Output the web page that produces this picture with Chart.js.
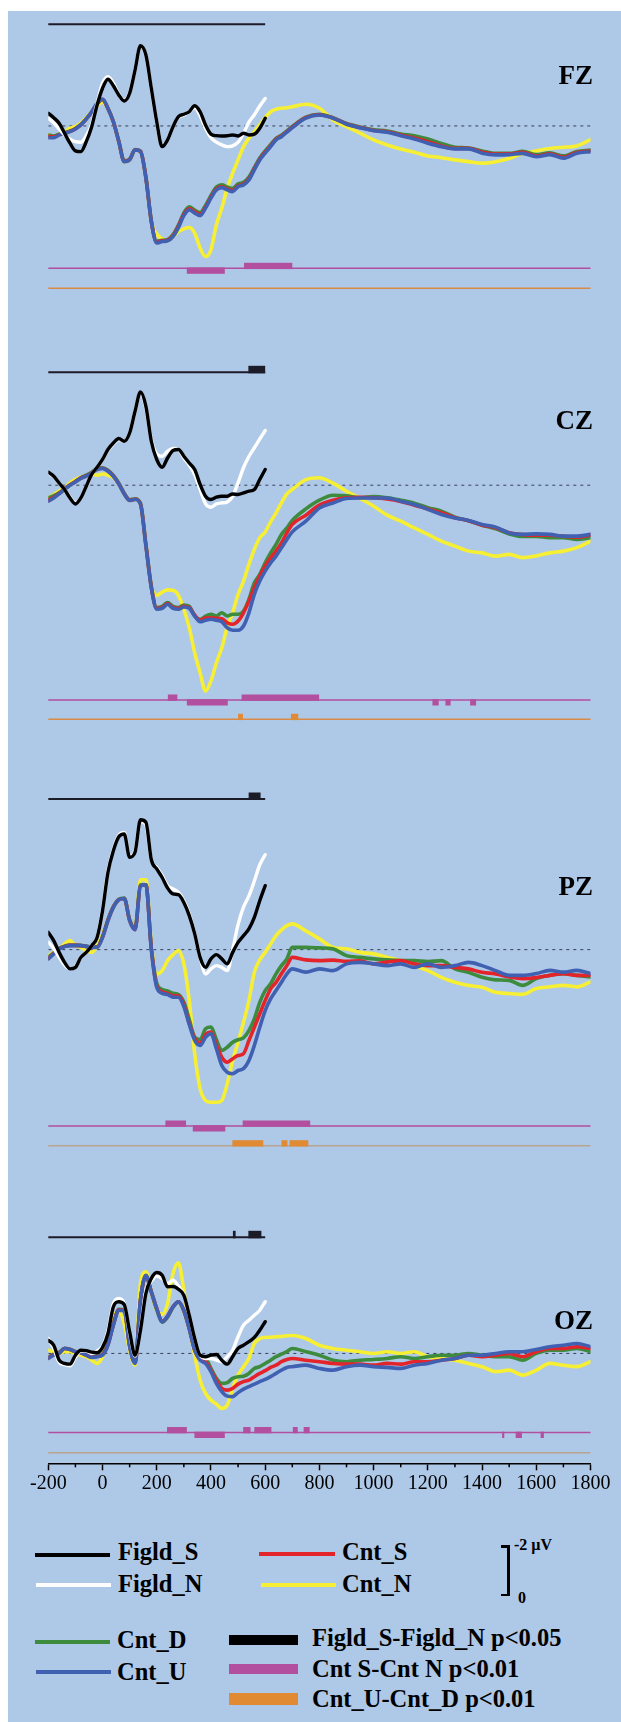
<!DOCTYPE html>
<html><head><meta charset="utf-8">
<script src="https://cdn.jsdelivr.net/npm/chart.js@4.4.1/dist/chart.umd.min.js"></script>
<style>
html,body{margin:0;padding:0;background:#fff;width:621px;height:1722px;overflow:hidden;}
#bg{position:absolute;left:8px;top:11px;width:613px;height:1711px;background:#aec8e8;}
#wrap{position:absolute;left:0;top:0;width:621px;height:1505px;}
.t{position:absolute;font-family:"Liberation Serif","Times New Roman",serif;font-weight:bold;color:#000;line-height:1;white-space:nowrap;}
.lg{font-size:24.5px;}
.pl{font-size:27px;width:90px;text-align:right;left:503px;}
.ln{position:absolute;}
</style></head><body>
<div id="bg"></div>
<div id="wrap"><canvas id="c" width="621" height="1505"></canvas></div>
<div id="labels"></div>
<div id="legend"></div>
<script>
// ---------- time grids (ms) ----------
const T_FIG = [-200,-180,-160,-140,-120,-100,-80,-60,-40,-20,0,20,40,60,80,100,120,140,160,180,200,220,240,260,280,300,320,340,360,380,400,420,440,460,480,500,520,540,560,580,600];
const T_CNT = [-200,-180,-160,-140,-120,-100,-80,-60,-40,-20,0,20,40,60,80,100,120,140,160,180,200,220,240,260,280,300,320,340,360,380,400,420,440,460,480,500,520,540,560,580,600,620,640,660,680,700,
  750,800,850,900,950,1000,1050,1100,1150,1200,1250,1300,1350,1400,1450,1500,1550,1600,1650,1700,1750,1800];
const X_TICKS_MINOR = [-100,100,300,500,700,900,1100,1300,1500,1700];

// ---------- FZ (µV, negative up) ----------
const FZ_FIGLD_S = [-0.51,-0.33,-0.11,0.29,0.69,1.0,1.03,0.63,0.03,-0.84, -1.51,-1.87,-1.61,-1.24,-1.0,-1.31,-2.24,-3.21,-2.84,-1.51, -0.17,0.83,0.56,0.03,-0.37,-0.47,-0.57,-0.81,-0.57,-0.04, 0.33,0.39,0.40,0.39,0.36,0.40,0.29,0.36,0.33,0.09,-0.31];
const FZ_FIGLD_N = [-0.31,-0.13,0.12,0.36,0.53,0.63,0.65,0.39,-0.07,-0.91, -1.71,-1.97,-1.71,-1.27,-1.03,-1.35,-2.24,-3.18,-2.8,-1.48, -0.15,0.8,0.56,0.03,-0.33,-0.44,-0.57,-0.73,-0.41,0.09, 0.47,0.65,0.76,0.83,0.8,0.65,0.3,-0.15,-0.45,-0.8,-1.1];
const FZ_CNT_U = [0.47,0.47,0.36,0.29,0.23,0.12,-0.04,-0.28,-0.57,-0.91, -1.08,-0.71,-0.17,0.63,1.43,1.36,0.96,1.03,2.09,3.83, 4.69,4.63,4.60,4.43,4.07,3.59,3.36,3.49,3.59,3.29, 2.89,2.56,2.47,2.56,2.63,2.43,2.36,2.16,1.76,1.36, 1.09,0.83,0.56,0.43,0.25,0.07,
  -0.31,-0.44,-0.31,-0.07,0.07,0.19,0.25,0.39,0.52,0.69,0.83,0.92,0.92,1.09,1.16,1.15,1.10,1.23,1.15,1.29,1.09,1.03];
const FZ_CNT_D = [0.36,0.40,0.33,0.27,0.20,0.10,-0.05,-0.28,-0.55,-0.88, -1.05,-0.70,-0.17,0.60,1.40,1.33,0.95,1.00,2.05,3.80, 4.62,4.58,4.55,4.35,3.97,3.48,3.24,3.37,3.47,3.18, 2.78,2.45,2.36,2.44,2.50,2.32,2.26,2.05,1.66,1.28, 1.00,0.75,0.50,0.37,0.20,0.02,
  -0.35,-0.47,-0.33,-0.10,0.04,0.15,0.20,0.32,0.39,0.52,0.70,0.85,0.88,1.00,1.10,1.10,1.02,1.15,1.08,1.20,1.02,0.97];
const FZ_CNT_S = [0.42,0.44,0.35,0.28,0.22,0.11,-0.04,-0.28,-0.56,-0.90, -1.06,-0.70,-0.17,0.62,1.42,1.35,0.96,1.02,2.07,3.82, 4.66,4.60,4.58,4.40,4.02,3.54,3.31,3.44,3.53,3.25, 2.85,2.52,2.44,2.52,2.58,2.40,2.33,2.12,1.72,1.33, 1.05,0.80,0.53,0.40,0.23,0.05,
  -0.33,-0.45,-0.32,-0.08,0.06,0.18,0.23,0.36,0.48,0.63,0.80,0.90,0.90,1.05,1.13,1.12,1.06,1.20,1.12,1.25,1.06,1.00];
const FZ_CNT_N = [0.36,0.43,0.33,0.23,0.09,0.03,-0.11,-0.33,-0.57,-0.81, -0.95,-0.71,-0.17,0.63,1.43,1.36,0.96,1.03,2.09,3.83, 4.33,4.52,4.60,4.43,4.23,4.12,4.07,4.29,4.89,5.23, 4.96,3.96,3.29,2.49,1.89,1.36,0.83,0.49,0.23,-0.04, -0.33,-0.57,-0.67,-0.71,-0.73,-0.77,
  -0.87,-0.71,-0.24,0.03,0.29,0.56,0.76,0.92,1.05,1.20,1.27,1.36,1.43,1.49,1.43,1.30,1.10,1.00,0.90,0.85,0.80,0.55];

// ---------- CZ ----------
const CZ_FIGLD_S = [-0.52,-0.36,-0.09,0.17,0.51,0.75,0.51,0.04,-0.43,-0.72, -1.03,-1.43,-1.69,-1.87,-1.76,-2.09,-2.96,-3.73,-3.16,-1.76, -1.03,-0.72,-1.09,-1.39,-1.43,-1.16,-0.89,-0.63,-0.03,0.44, 0.57,0.48,0.44,0.44,0.35,0.37,0.31,0.24,0.17,-0.23,-0.63];
const CZ_FIGLD_N = [-0.50,-0.34,-0.08,0.17,0.48,0.70,0.50,0.05,-0.42,-0.72, -1.03,-1.39,-1.65,-1.83,-1.76,-2.09,-2.96,-3.69,-3.09,-1.83, -1.25,-1.16,-1.36,-1.47,-1.43,-1.09,-0.80,-0.43,0.17,0.75, 0.88,0.75,0.71,0.67,0.45,-0.10,-0.70,-1.15,-1.50,-1.85,-2.19];
const CZ_CNT_U = [0.64,0.51,0.35,0.17,0.00,-0.13,-0.27,-0.36,-0.49,-0.63, -0.67,-0.56,-0.36,-0.05,0.35,0.61,0.57,0.77,2.44,4.11, 4.97,4.93,4.77,4.93,4.97,4.88,4.93,5.24,5.47,5.41, 5.37,5.41,5.47,5.71,5.81,5.81,5.64,5.11,4.37,3.84, 3.44,3.11,2.84,2.51,2.17,1.87,
  1.44,0.91,0.71,0.53,0.51,0.51,0.51,0.64,0.77,0.97,1.17,1.31,1.41,1.57,1.68,1.91,1.97,1.95,1.97,2.04,2.04,1.97];
const CZ_CNT_S = [0.60,0.48,0.33,0.15,-0.01,-0.14,-0.28,-0.37,-0.50,-0.64, -0.68,-0.57,-0.37,-0.06,0.34,0.60,0.56,0.75,2.40,4.08, 4.93,4.90,4.74,4.90,4.93,4.85,4.90,5.20,5.40,5.32, 5.31,5.33,5.35,5.51,5.57,5.44,5.11,4.64,4.11,3.64, 3.24,2.91,2.64,2.31,1.91,1.57,
  1.20,0.80,0.60,0.50,0.48,0.50,0.55,0.65,0.80,0.95,1.10,1.30,1.42,1.60,1.70,1.90,1.98,2.00,2.00,2.05,2.08,2.00];
const CZ_CNT_D = [0.51,0.42,0.30,0.14,-0.01,-0.15,-0.30,-0.40,-0.52,-0.66, -0.70,-0.60,-0.39,-0.08,0.32,0.58,0.54,0.72,2.36,4.05, 4.90,4.85,4.70,4.85,4.90,4.80,4.85,5.24,5.37,5.24, 5.17,5.24,5.11,5.24,5.17,5.17,5.04,4.57,3.91,3.57, 3.11,2.71,2.37,1.97,1.71,1.41,
  0.95,0.60,0.40,0.42,0.50,0.45,0.50,0.60,0.72,0.90,1.04,1.28,1.42,1.60,1.75,1.95,2.05,2.05,2.10,2.10,2.17,2.10];
const CZ_CNT_N = [0.51,0.37,0.24,0.11,-0.09,-0.23,-0.32,-0.36,-0.43,-0.40, -0.45,-0.40,-0.30,-0.05,0.35,0.61,0.57,0.77,2.40,4.05, 4.41,4.28,4.19,4.21,4.41,4.97,5.71,6.71,7.51,8.24, 7.84,7.11,6.51,5.68,5.11,4.37,3.84,3.17,2.57,2.11, 1.87,1.47,1.11,0.71,0.35,0.17,
  -0.22,-0.30,-0.08,0.24,0.53,0.84,1.20,1.44,1.71,1.97,2.24,2.44,2.64,2.71,2.84,2.77,2.90,2.83,2.71,2.64,2.50,2.24];

// ---------- PZ ----------
const PZ_FIGLD_S = [-0.69,-0.36,0.11,0.51,0.77,0.71,0.31,0.11,-0.16,-0.49, -1.56,-3.09,-3.96,-4.52,-4.63,-3.70,-3.90,-5.20,-5.10,-3.60, -3.23,-2.89,-2.47,-2.23,-2.20,-1.89,-1.36,-0.63,0.31,0.71, 0.37,0.20,0.37,0.57,0.11,-0.29,-0.56,-0.83,-1.29,-1.96,-2.56];
const PZ_FIGLD_N = [-0.30,-0.05,0.30,0.62,0.77,0.68,0.31,0.11,-0.16,-0.49, -1.62,-3.15,-4.02,-4.58,-4.69,-3.75,-3.95,-5.15,-5.00,-3.60, -3.29,-2.96,-2.56,-2.43,-2.29,-1.96,-1.43,-0.63,0.31,0.97, 0.77,0.64,0.71,0.84,0.00,-1.00,-1.70,-2.15,-2.75,-3.40,-3.80];
const PZ_CNT_U = [0.37,0.17,-0.03,-0.12,-0.16,-0.16,-0.16,-0.13,-0.09,-0.09, -0.49,-1.16,-1.69,-2.00,-2.05,-1.16,-0.80,-2.55,-2.60,0.00, 1.51,1.75,1.80,1.91,1.91,2.28,3.00,3.64,3.84,3.51, 3.37,3.97,4.64,4.91,4.97,4.84,4.77,4.44,3.84,3.11, 2.44,1.97,1.64,1.31,0.97,0.77,
  0.90,0.77,0.84,0.57,0.51,0.57,0.64,0.57,0.71,0.57,0.71,0.64,0.51,0.64,0.84,1.03,1.03,0.96,0.83,0.90,0.83,0.96];
const PZ_CNT_S = [0.35,0.15,-0.04,-0.13,-0.17,-0.17,-0.16,-0.13,-0.10,-0.10, -0.50,-1.17,-1.70,-2.00,-2.05,-1.17,-0.80,-2.55,-2.60,-0.05, 1.45,1.70,1.75,1.85,1.85,2.20,2.95,3.55,3.75,3.40, 3.30,3.80,4.31,4.51,4.37,4.24,4.17,3.64,3.11,2.57, 2.04,1.57,1.31,0.97,0.64,0.31,
  0.41,0.44,0.42,0.47,0.45,0.57,0.50,0.44,0.57,0.64,0.64,0.71,0.77,0.91,0.97,1.09,1.16,1.12,1.03,0.96,1.03,1.03];
const PZ_CNT_D = [0.30,0.13,-0.05,-0.14,-0.18,-0.18,-0.17,-0.14,-0.11,-0.11, -0.52,-1.20,-1.72,-2.02,-2.07,-1.20,-0.85,-2.60,-2.60,-0.10, 1.35,1.60,1.65,1.75,1.80,2.10,2.80,3.50,3.60,3.17, 3.10,3.60,4.04,3.91,3.71,3.61,3.53,3.24,2.77,2.11, 1.64,1.37,0.97,0.64,0.37,-0.09,
  -0.09,-0.07,-0.03,0.24,0.31,0.37,0.41,0.44,0.44,0.48,0.44,0.77,0.91,1.11,1.21,1.23,1.43,1.16,1.03,0.96,1.03,1.09];
const PZ_CNT_N = [0.24,0.11,-0.03,-0.23,-0.36,-0.16,-0.09,0.04,0.11,-0.16, -0.60,-1.20,-1.69,-2.00,-2.05,-1.16,-0.85,-2.80,-2.80,-0.23, 0.97,0.84,0.44,0.20,0.04,0.57,2.04,4.17,5.57,6.04, 6.11,6.11,6.04,5.37,4.44,3.71,2.91,2.04,0.91,0.41, 0.11,-0.23,-0.56,-0.79,-0.96,-1.03,
  -0.75,-0.43,-0.09,-0.03,0.11,0.17,0.31,0.44,0.64,0.84,1.11,1.31,1.44,1.51,1.71,1.76,1.79,1.56,1.49,1.43,1.49,1.29];

// ---------- OZ ----------
const OZ_FIGLD_S = [-0.53,-0.33,0.27,0.40,0.43,0.07,-0.13,-0.11,-0.05,-0.03, -0.24,-0.80,-1.87,-2.07,-1.96,-0.87,0.07,-0.93,-2.40,-3.00, -3.24,-3.13,-2.67,-2.68,-2.57,-2.33,-1.53,-0.60,0.07,0.13, 0.07,0.04,0.27,0.43,0.13,-0.20,-0.33,-0.47,-0.64,-0.93,-1.27];
const OZ_FIGLD_N = [-0.60,-0.20,0.35,0.45,0.50,0.15,-0.10,-0.10,0.00,-0.10, -0.30,-0.90,-2.00,-2.20,-2.00,-0.80,0.10,-1.00,-2.50,-2.90, -3.10,-3.00,-2.80,-2.93,-2.70,-2.35,-1.55,-0.60,0.07,0.20, 0.20,0.27,0.33,0.13,-0.13,-0.67,-1.13,-1.33,-1.53,-1.73,-2.07];
const OZ_CNT_U = [0.20,0.07,0.00,-0.20,-0.16,-0.07,-0.03,0.07,0.16,0.13, 0.07,-0.33,-1.13,-1.73,-1.71,-0.27,0.40,-2.13,-3.13,-2.47, -1.80,-1.27,-1.49,-1.87,-2.07,-1.73,-1.00,-0.13,0.27,0.40, 0.73,1.20,1.53,1.71,1.73,1.57,1.43,1.33,1.23,1.13, 1.04,0.93,0.80,0.67,0.56,0.53,
  0.47,0.60,0.67,0.53,0.47,0.53,0.56,0.60,0.47,0.40,0.27,0.20,0.07,0.07,0.00,-0.07,-0.07,-0.16,-0.27,-0.33,-0.40,-0.27];
const OZ_CNT_S = [0.18,0.05,-0.02,-0.20,-0.16,-0.07,-0.03,0.07,0.15,0.12, 0.05,-0.35,-1.15,-1.75,-1.72,-0.30,0.38,-2.13,-3.10,-2.47, -1.80,-1.28,-1.50,-1.87,-2.07,-1.73,-1.00,-0.13,0.25,0.33, 0.67,1.07,1.40,1.47,1.40,1.23,1.13,1.07,0.93,0.80, 0.69,0.56,0.47,0.33,0.24,0.20,
  0.27,0.33,0.40,0.43,0.43,0.47,0.40,0.43,0.33,0.33,0.27,0.20,0.07,0.13,0.07,0.00,0.13,-0.07,-0.20,-0.20,-0.27,-0.20];
const OZ_CNT_D = [0.15,0.03,-0.04,-0.21,-0.17,-0.08,-0.04,0.06,0.14,0.11, 0.03,-0.37,-1.17,-1.77,-1.75,-0.33,0.35,-2.15,-3.10,-2.45, -1.75,-1.25,-1.45,-1.85,-2.05,-1.70,-0.98,-0.15,0.15,0.20, 0.60,1.00,1.20,1.17,1.00,0.93,0.91,0.80,0.60,0.53, 0.40,0.27,0.13,0.03,-0.07,-0.20,
  -0.07,0.07,0.27,0.33,0.27,0.24,0.20,0.13,0.20,0.13,0.07,0.07,0.00,0.07,0.13,0.13,0.27,0.00,-0.13,-0.13,-0.20,-0.07];
const OZ_CNT_N = [-0.13,-0.07,0.00,-0.07,-0.07,0.00,0.07,0.13,0.27,0.40, 0.13,-0.53,-1.47,-1.67,-1.20,-0.13,0.47,-2.80,-3.27,-2.47, -1.73,-1.57,-2.00,-3.20,-3.63,-2.53,-1.13,0.07,1.07,1.60, 1.87,2.03,2.20,2.07,1.40,0.87,0.53,0.20,-0.40,-0.59, -0.64,-0.65,-0.67,-0.68,-0.71,-0.72,
  -0.60,-0.33,-0.20,-0.13,-0.07,0.00,-0.07,0.00,-0.07,0.13,0.20,0.27,0.40,0.53,0.73,0.67,0.87,0.67,0.40,0.47,0.53,0.33];

// ---------- significance intervals [start ms, end ms, side(+1 above, -1 below)] ----------
const SIG_FIG_FZ = [];
const SIG_FIG_CZ = [[538,600,1]];
const SIG_FIG_PZ = [[539,583,1]];
const SIG_FIG_OZ = [[481,491,1],[538,586,1]];
const SIG_SN_FZ = [[311,451,-1],[522,700,1]];
const SIG_SN_CZ = [[241,276,1],[311,462,-1],[513,799,1],[1217,1240,-1],[1265,1284,-1],[1356,1378,-1]];
const SIG_SN_PZ = [[232,308,1],[333,453,-1],[517,766,1]];
const SIG_SN_OZ = [[238,311,1],[339,451,-1],[519,546,1],[560,623,1],[702,720,1],[742,764,1],[1474,1482,-1],[1524,1547,-1],[1616,1628,-1]];
const SIG_UD_FZ = [];
const SIG_UD_CZ = [[500,518,1],[695,722,1]];
const SIG_UD_PZ = [[479,593,1],[660,682,1],[690,759,1]];
const SIG_UD_OZ = [];
const SIG_FIG_RANGE = [-200,600];
const SIG_FULL_RANGE = [-200,1800];

// ---------- layout / style (pixels) ----------
const PX_PER_UV = 25;
const PANELS = [
  {id:'FZ', zero:124.3, bar:24.3, mag:268.3, org:288.3, label:76,
   data:[FZ_FIGLD_S,FZ_FIGLD_N,FZ_CNT_S,FZ_CNT_N,FZ_CNT_D,FZ_CNT_U], sig:[SIG_FIG_FZ,SIG_SN_FZ,SIG_UD_FZ], orgCol:'#d98b45'},
  {id:'CZ', zero:484, bar:372.3, mag:700, org:719.3, label:421,
   data:[CZ_FIGLD_S,CZ_FIGLD_N,CZ_CNT_S,CZ_CNT_N,CZ_CNT_D,CZ_CNT_U], sig:[SIG_FIG_CZ,SIG_SN_CZ,SIG_UD_CZ], orgCol:'#d98b45'},
  {id:'PZ', zero:949, bar:799, mag:1126, org:1145.7, label:887,
   data:[PZ_FIGLD_S,PZ_FIGLD_N,PZ_CNT_S,PZ_CNT_N,PZ_CNT_D,PZ_CNT_U], sig:[SIG_FIG_PZ,SIG_SN_PZ,SIG_UD_PZ], orgCol:'#b9a48e'},
  {id:'OZ', zero:1353.3, bar:1237.3, mag:1432.5, org:1452.7, label:1321,
   data:[OZ_FIGLD_S,OZ_FIGLD_N,OZ_CNT_S,OZ_CNT_N,OZ_CNT_D,OZ_CNT_U], sig:[SIG_FIG_OZ,SIG_SN_OZ,SIG_UD_OZ], orgCol:'#b9a48e'}
];
const SERIES = [
  {name:'Figld_S', color:'#000000', width:3.4, order:1, fig:true},
  {name:'Figld_N', color:'#ffffff', width:3.4, order:2, fig:true},
  {name:'Cnt_S', color:'#e3242b', width:3.6, order:4},
  {name:'Cnt_N', color:'#f6ef34', width:3.6, order:6},
  {name:'Cnt_D', color:'#3d8b3d', width:3.6, order:5},
  {name:'Cnt_U', color:'#4060b2', width:3.6, order:3}
];
const MAGENTA = '#b24f9e', BARBLACK = '#1c1c28';
const AXIS_BOTTOM = 1463.3;

function pts(T, V){ return T.map((t,i)=>({x:t, y:V[i]})); }

const datasets = [];
const scales = {
  x: {type:'linear', min:-200, max:1800, position:'bottom',
      border:{display:true, color:'#000', width:1.5},
      grid:{display:true, drawOnChartArea:false, drawTicks:true, tickLength:7, tickColor:'#000', tickWidth:1.5},
      ticks:{stepSize:200, autoSkip:false, maxRotation:0, minRotation:0, color:'#000', padding:1,
             font:{family:'"Liberation Serif", serif', size:20},
             callback:(v)=>String(v)},
      afterFit(s){ s.height = 1505 - AXIS_BOTTOM; s.paddingLeft = 0; s.paddingRight = 0; }
  }
};
PANELS.forEach(p=>{
  const yid = 'y'+p.id;
  scales[yid] = {type:'linear', display:false, reverse:true, min:-5, max:50};
  SERIES.forEach((s,k)=>{
    datasets.push({label:p.id+' '+s.name, data:pts(s.fig?T_FIG:T_CNT, p.data[k]), yAxisID:yid,
      borderColor:s.color, borderWidth:s.width, pointRadius:0, fill:false,
      cubicInterpolationMode:'monotone', order:s.order, borderJoinStyle:'round', borderCapStyle:'round'});
  });
  datasets.push({label:p.id+' zero', data:[{x:-200,y:0},{x:1800,y:0}], yAxisID:yid,
    borderColor:'#3a3f55', borderWidth:1, borderDash:[3,4], pointRadius:0, order:9});
});

const sigPlugin = {
  id:'sigRows',
  beforeDatasetsDraw(chart){
    const ctx = chart.ctx, x = chart.scales.x;
    const px = v => x.getPixelForValue(v);
    ctx.save();
    PANELS.forEach(p=>{
      const rows = [
        {y:p.bar, col:BARBLACK, lw:2, range:SIG_FIG_RANGE, iv:p.sig[0], h:6.5},
        {y:p.mag, col:MAGENTA, lw:1.6, range:SIG_FULL_RANGE, iv:p.sig[1], h:5.5},
        {y:p.org, col:p.orgCol, lw:1.6, range:SIG_FULL_RANGE, iv:p.sig[2], h:5.5}
      ];
      rows.forEach((r,ri)=>{
        ctx.strokeStyle = r.col; ctx.lineWidth = r.lw;
        ctx.beginPath(); ctx.moveTo(px(r.range[0]), r.y); ctx.lineTo(px(r.range[1]), r.y); ctx.stroke();
        ctx.fillStyle = ri===2 ? '#e08a34' : r.col;
        r.iv.forEach(([a,b,side])=>{
          const x0 = px(a), x1 = px(b);
          if (side > 0) ctx.fillRect(x0, r.y - r.h, x1-x0, r.h + r.lw/2);
          else ctx.fillRect(x0, r.y - r.lw/2, x1-x0, r.h + r.lw/2);
        });
      });
    });
    ctx.restore();
  },
  afterDraw(chart){
    const ctx = chart.ctx, x = chart.scales.x, b = chart.chartArea.bottom;
    ctx.save(); ctx.strokeStyle = '#000'; ctx.lineWidth = 1.5;
    X_TICKS_MINOR.forEach(v=>{ const xp = x.getPixelForValue(v); ctx.beginPath(); ctx.moveTo(xp,b); ctx.lineTo(xp,b+4); ctx.stroke(); });
    ctx.restore();
  }
};

const chart = new Chart(document.getElementById('c'), {
  type:'line',
  data:{datasets},
  options:{
    responsive:false, animation:false, events:[],
    layout:{padding:{left:48.3, right:30.5, top:0, bottom:0}},
    plugins:{legend:{display:false}, tooltip:{enabled:false}},
    scales
  },
  plugins:[sigPlugin]
});
const ca = chart.chartArea;
PANELS.forEach(p=>{
  const o = chart.options.scales['y'+p.id];
  o.min = -(p.zero - ca.top)/PX_PER_UV;
  o.max = (ca.bottom - p.zero)/PX_PER_UV;
});
chart.update('none');

// ---------- panel labels ----------
const labHost = document.getElementById('labels');
PANELS.forEach(p=>{
  const d = document.createElement('div'); d.className='t pl'; d.textContent = p.id;
  d.style.top = (p.label - 13.7) + 'px'; labHost.appendChild(d);
});

// ---------- legend ----------
const LEG_LINES = [
  {text:'Figld_S', color:'#000000', x0:35, x1:110, y:1555, h:4.5, tx:118, ty:1540},
  {text:'Figld_N', color:'#ffffff', x0:36, x1:111, y:1585, h:4, tx:118, ty:1571.5},
  {text:'Cnt_S', color:'#e3242b', x0:259, x1:335, y:1553.5, h:4, tx:342, ty:1540},
  {text:'Cnt_N', color:'#f6ef34', x0:261, x1:336, y:1584.5, h:4, tx:342, ty:1571.5},
  {text:'Cnt_D', color:'#3d8b3d', x0:35, x1:110, y:1642, h:4, tx:117, ty:1628},
  {text:'Cnt_U', color:'#4060b2', x0:36, x1:111, y:1672, h:4, tx:117, ty:1660}
];
const LEG_BARS = [
  {text:'Figld_S-Figld_N p<0.05', color:'#000000', y0:1635, y1:1645, ty:1625.5},
  {text:'Cnt S-Cnt N p<0.01', color:MAGENTA, y0:1664, y1:1674, ty:1656.5},
  {text:'Cnt_U-Cnt_D p<0.01', color:'#e08a34', y0:1693, y1:1705, ty:1687}
];
const lg = document.getElementById('legend');
function el(cls, st, txt){ const d=document.createElement('div'); d.className=cls; Object.assign(d.style, st); if(txt!==undefined) d.textContent=txt; lg.appendChild(d); return d; }
LEG_LINES.forEach(l=>{
  el('ln', {left:l.x0+'px', width:(l.x1-l.x0)+'px', top:(l.y-l.h/2)+'px', height:l.h+'px', background:l.color});
  el('t lg', {left:l.tx+'px', top:l.ty+'px'}, l.text);
});
LEG_BARS.forEach(b=>{
  el('ln', {left:'229px', width:'69px', top:b.y0+'px', height:(b.y1-b.y0)+'px', background:b.color});
  el('t lg', {left:'312px', top:b.ty+'px'}, b.text);
});
// scale bracket
el('ln', {left:'507px', width:'2.5px', top:'1545px', height:'51px', background:'#000'});
el('ln', {left:'501px', width:'8px', top:'1545px', height:'2.5px', background:'#000'});
el('ln', {left:'501px', width:'8px', top:'1593.5px', height:'2.5px', background:'#000'});
el('t', {left:'514px', top:'1537px', fontSize:'16px'}, '-2 µV');
el('t', {left:'518px', top:'1590px', fontSize:'16px'}, '0');
</script>
</body></html>
